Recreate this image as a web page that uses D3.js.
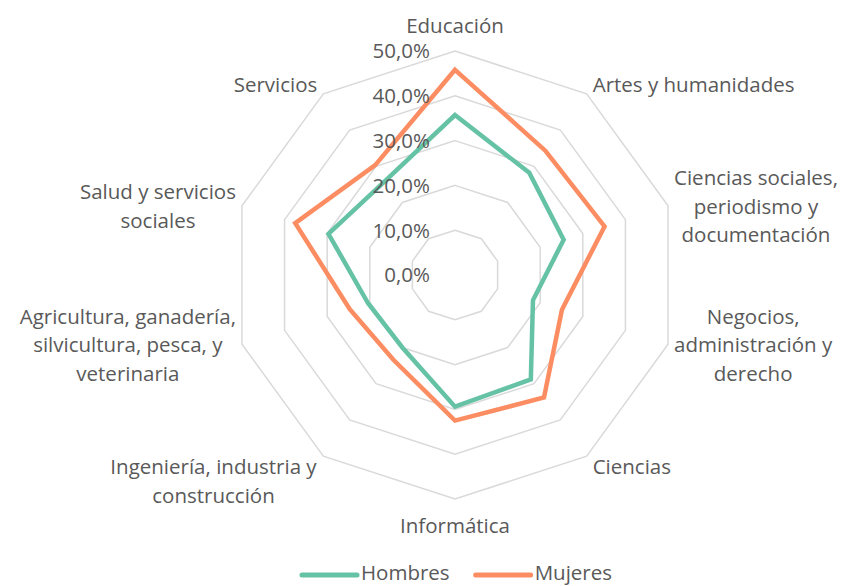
<!DOCTYPE html>
<html>
<head>
<meta charset="utf-8">
<script src="https://cdn.jsdelivr.net/npm/d3@7"></script>
<style>
  body { margin: 0; background: #fff; }
  text { font-family: "Open Sans", sans-serif; fill: #595959; }
</style>
</head>
<body>
<div id="chart"></div>
<script>
// categorias (una entrada por eje, lineas de la etiqueta)
var categories = [
  ["Educación"],
  ["Artes y humanidades"],
  ["Ciencias sociales,", "periodismo y", "documentación"],
  ["Negocios,", "administración y", "derecho"],
  ["Ciencias"],
  ["Informática"],
  ["Ingeniería, industria y", "construcción"],
  ["Agricultura, ganadería,", "silvicultura, pesca, y", "veterinaria"],
  ["Salud y servicios", "sociales"],
  ["Servicios"]
];
var hombres = [35.7, 28.2, 25.5, 18.3, 28.8, 29.4, 20.0, 20.4, 29.7, 26.2];
var mujeres = [45.8, 34.3, 35.1, 25.1, 33.8, 32.5, 23.4, 24.7, 37.5, 30.3];
var seriesNames = ["Hombres", "Mujeres"];
var ticks = [0, 10, 20, 30, 40, 50];

var width = 846, height = 586;
var cx = 455, cy = 275, R = 224;
var colors = ["#66c2a5", "#fc8d62"];
var fs = "20.5px";

var svg = d3.select("#chart").append("svg")
    .attr("width", width)
    .attr("height", height);

var r = d3.scaleLinear().domain([0, 50]).range([0, R]);
var angle = d3.scaleLinear().domain([0, categories.length]).range([0, 2 * Math.PI]);

var g = svg.append("g").attr("transform", "translate(" + cx + "," + cy + ")");

function pt(i, v) {
  var a = angle(i);
  return [Math.sin(a) * r(v), -Math.cos(a) * r(v)];
}

// rejilla
ticks.slice(1).forEach(function(t) {
  var ring = d3.range(categories.length).map(function(i) { return pt(i, t); });
  g.append("polygon")
      .attr("points", ring.map(function(p) { return p.join(","); }).join(" "))
      .attr("fill", "none")
      .attr("stroke", "#d9d9d9")
      .attr("stroke-width", 1.5);
});

// series
var line = d3.lineRadial()
    .angle(function(d, i) { return angle(i); })
    .radius(function(d) { return r(d); })
    .curve(d3.curveLinearClosed);

[hombres, mujeres].forEach(function(s, k) {
  g.append("path")
      .datum(s)
      .attr("d", line)
      .attr("fill", "none")
      .attr("stroke", colors[k])
      .attr("stroke-width", 4.5)
      .attr("stroke-linejoin", "miter");
});

// etiquetas del eje
g.selectAll(".tick")
    .data(ticks)
    .enter().append("text")
    .attr("class", "tick")
    .attr("x", -25)
    .attr("y", function(d) { return -r(d); })
    .attr("dy", "0.36em")
    .attr("text-anchor", "end")
    .style("font-size", fs)
    .text(function(d) { return d3.format(".1f")(d).replace(".", ",") + "%"; });

// etiquetas de categorias
categories.forEach(function(lines, i) {
  var a = angle(i), s = Math.sin(a), c = Math.cos(a);
  var v = pt(i, 50);
  var lg = g.append("g");
  var t = lg.append("text")
      .attr("text-anchor", "middle")
      .style("font-size", fs);
  lines.forEach(function(l, j) {
    t.append("tspan").attr("x", 0).attr("y", j * 28.7).text(l);
  });
  var b = t.node().getBBox();
  var x, y;
  if (s > 0.1) x = v[0] + 6 - b.x;
  else if (s < -0.1) x = v[0] - 6 - (b.x + b.width);
  else x = v[0] - (b.x + b.width / 2);
  if (Math.abs(s) < 0.1) {
    y = c > 0 ? v[1] - 12 - (b.y + b.height) : v[1] + 12 - b.y;
  } else if (Math.abs(c) > 0.7) {
    y = c > 0 ? v[1] + 4 - (b.y + b.height) : v[1] - 4 - b.y;
  } else {
    y = v[1] - (b.y + b.height / 2);
  }
  lg.attr("transform", "translate(" + x + "," + y + ")");
});

// leyenda
var legend = svg.append("g").attr("transform", "translate(302,575)");
var lx = 0;
seriesNames.forEach(function(n, k) {
  legend.append("line")
      .attr("x1", lx).attr("x2", lx + 55)
      .attr("stroke", colors[k])
      .attr("stroke-width", 5)
      .attr("stroke-linecap", "round");
  var tx = legend.append("text")
      .attr("x", lx + 59)
      .attr("y", 4.5)
      .style("font-size", fs)
      .text(n);
  lx += 59 + tx.node().getComputedTextLength() + 26;
});
</script>
</body>
</html>
